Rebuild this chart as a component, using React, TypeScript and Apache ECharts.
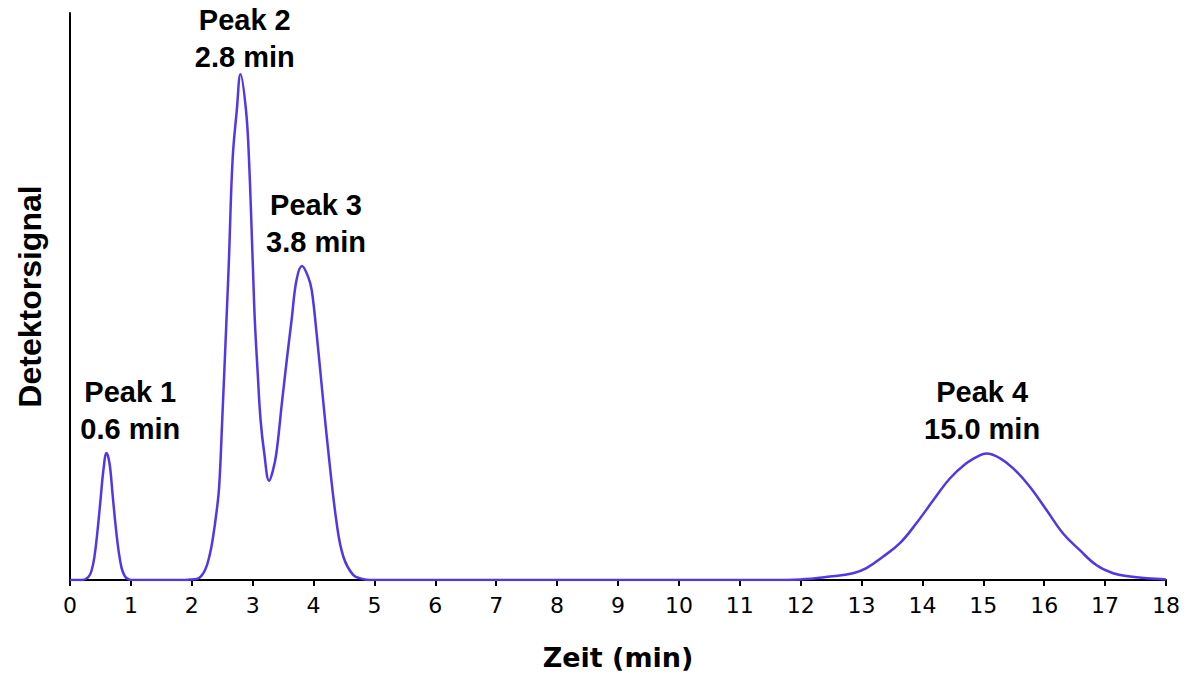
import React, { useEffect, useRef } from "react";
import * as echarts from "echarts";

// Retention time (min) and detector signal (relative units, 0-100)
const times = [0, 0.2, 0.3, 0.35, 0.4, 0.45, 0.5, 0.55, 0.6, 0.65, 0.7, 0.75, 0.8, 0.85, 0.9, 0.95, 1.0, 1.5, 1.9, 2.0, 2.11, 2.22, 2.3, 2.35, 2.41, 2.45, 2.5, 2.57, 2.61, 2.67, 2.74, 2.8, 2.89, 2.94, 3.0, 3.035, 3.08, 3.13, 3.19, 3.27, 3.33, 3.39, 3.48, 3.56, 3.64, 3.72, 3.81, 3.91, 3.97, 4.05, 4.13, 4.24, 4.38, 4.49, 4.65, 4.8, 4.93, 6, 8, 10, 11.5, 12.0, 12.48, 12.86, 13.08, 13.35, 13.63, 13.9, 14.18, 14.45, 14.72, 14.94, 15.05, 15.27, 15.49, 15.76, 16.04, 16.31, 16.58, 16.86, 17.13, 17.41, 17.68, 18.0];
const signal = [0, 0, 0.5, 1.5, 4, 8.5, 14, 19.5, 22.4, 20.5, 15, 9.5, 5, 2, 0.7, 0.2, 0, 0, 0, 0.1, 0.3, 1.8, 4.7, 7.6, 12.3, 16.5, 28.2, 45.9, 56.4, 74.1, 82.9, 89.2, 82.9, 74.1, 56.4, 45.9, 37.0, 28.2, 22.4, 17.5, 19.2, 22.4, 31.2, 38.8, 45.9, 52.9, 55.4, 53.5, 51.1, 43.5, 34.7, 22.9, 10.0, 4.1, 0.9, 0.2, 0, 0, 0, 0, 0, 0.1, 0.6, 1.2, 2.1, 4.1, 6.5, 10.0, 14.1, 17.9, 20.6, 22.0, 22.3, 21.5, 19.7, 16.5, 12.3, 8.2, 5.3, 2.6, 1.2, 0.6, 0.3, 0.1];

// Peak annotations (anchor = bottom centre of each two-line label)
const peakNames = ["Peak 1", "Peak 2", "Peak 3", "Peak 4"];
const peakTimes = ["0.6", "2.8", "3.8", "15.0"];
const labelX = [0.99, 2.87, 4.04, 14.98];
const labelY = [23.4, 89.0, 56.3, 23.4];

const xTicks = [0, 18, 1]; // min, max, interval

export default function App() {
  const ref = useRef<HTMLDivElement>(null);
  useEffect(() => {
    if (!ref.current) return;
    const chart = echarts.init(ref.current, null, { renderer: "svg" });
    const lineData = times.map((t, i) => [t, signal[i]]);
    const labelData = peakNames.map((n, i) => ({
      value: [labelX[i], labelY[i]],
      name: n,
      time: peakTimes[i],
    }));
    chart.setOption({
      animation: false,
      backgroundColor: "#ffffff",
      grid: { left: 70, right: 29, top: 13, bottom: 97, containLabel: false },
      xAxis: {
        type: "value",
        min: xTicks[0],
        max: xTicks[1],
        interval: xTicks[2],
        name: "Zeit (min)",
        nameLocation: "middle",
        nameGap: 64,
        nameTextStyle: {
          fontFamily: "DejaVu Sans",
          fontWeight: "bold",
          fontSize: 27,
          color: "#000",
        },
        axisLine: { lineStyle: { color: "#000", width: 2 } },
        axisTick: { show: true, length: 6, lineStyle: { color: "#000", width: 2 } },
        axisLabel: {
          fontFamily: "DejaVu Sans",
          fontSize: 22,
          color: "#000",
          margin: 14,
        },
        splitLine: { show: false },
      },
      yAxis: {
        type: "value",
        min: 0,
        max: 100,
        name: "Detektorsignal",
        nameLocation: "middle",
        nameRotate: 90,
        nameGap: 24,
        nameTextStyle: {
          fontFamily: "Liberation Sans",
          fontWeight: "bold",
          fontSize: 32,
          color: "#000",
        },
        axisLine: { show: true, lineStyle: { color: "#000", width: 2 } },
        axisTick: { show: false },
        axisLabel: { show: false },
        splitLine: { show: false },
      },
      series: [
        {
          type: "line",
          data: lineData,
          smooth: 0.4,
          showSymbol: false,
          symbol: "none",
          lineStyle: { color: "#5236e8", width: 2.5 },
          z: 3,
        },
        {
          type: "scatter",
          data: labelData,
          symbolSize: 0,
          silent: true,
          itemStyle: { color: "#000", opacity: 0 },
          label: {
            show: true,
            position: "top",
            distance: 0,
            formatter: (p: any) => `${p.data.name}\n${p.data.time} min`,
            fontFamily: "Liberation Sans",
            fontWeight: "bold",
            fontSize: 29,
            lineHeight: 37,
            color: "#000000",
            opacity: 1,
            textBorderWidth: 0,
            align: "center",
          },
          z: 4,
        },
      ],
    });
    return () => chart.dispose();
  }, []);
  return (
    <div
      ref={ref}
      style={{ position: "absolute", left: 0, top: 0, width: 1195, height: 677 }}
    />
  );
}
